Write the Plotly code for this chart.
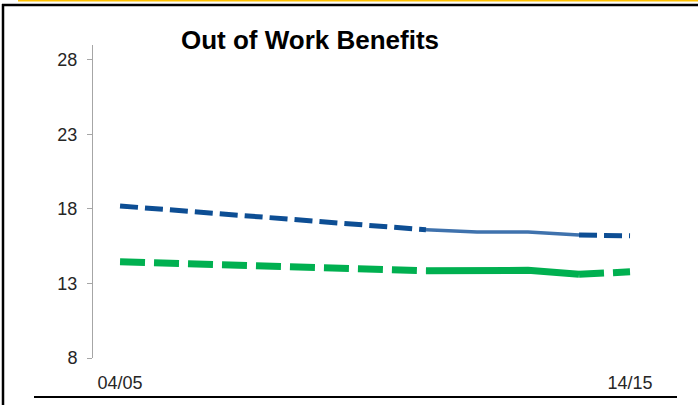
import plotly.graph_objects as go

years = ["04/05", "05/06", "06/07", "07/08", "08/09", "09/10",
         "10/11", "11/12", "12/13", "13/14", "14/15"]
blue_vals = [18.2, 17.92, 17.66, 17.4, 17.12, 16.86, 16.6, 16.45, 16.45, 16.25, 16.2]
green_vals = [14.45, 14.35, 14.26, 14.16, 14.1, 14.0, 13.85, 13.9, 13.88, 13.62, 13.78]
y_ticks = [8, 13, 18, 23, 28]
x_ticks = ["04/05", "14/15"]
title_text = "Out of Work Benefits"

BLUE_D = "#0D4E94"
BLUE_S = "#3F72AD"
GREEN = "#00B050"

def dashed(vals):
    xs = years[:7] + [None] + years[9:]
    ys = vals[:7] + [None] + vals[9:]
    return xs, ys

fig = go.Figure()
bx, by = dashed(blue_vals)
gx, gy = dashed(green_vals)
fig.add_trace(go.Scatter(x=bx, y=by, mode="lines", connectgaps=False,
                         line=dict(color=BLUE_D, width=5, dash="18px,7px")))
fig.add_trace(go.Scatter(x=years[6:10], y=blue_vals[6:10], mode="lines",
                         line=dict(color=BLUE_S, width=3.5)))
fig.add_trace(go.Scatter(x=gx, y=gy, mode="lines", connectgaps=False,
                         line=dict(color=GREEN, width=7, dash="25px,9px")))
fig.add_trace(go.Scatter(x=years[6:10], y=green_vals[6:10], mode="lines",
                         line=dict(color=GREEN, width=7)))

# plot area in pixels
X0, X1, YT, YB = 93, 680, 45, 358
def px(x):
    return (x - X0) / (X1 - X0)
def py(y):
    return (YB - y) / (YB - YT)

shapes = [
    dict(type="line", xref="paper", yref="paper", x0=px(18), x1=px(698), y0=py(0.5), y1=py(0.5),
         line=dict(color="#FFC000", width=2)),
    dict(type="line", xref="paper", yref="paper", x0=px(2), x1=px(698), y0=py(5), y1=py(5),
         line=dict(color="#000000", width=2.5)),
    dict(type="line", xref="paper", yref="paper", x0=px(3), x1=px(3), y0=py(4), y1=py(405),
         line=dict(color="#000000", width=2.5)),
    dict(type="line", xref="paper", yref="paper", x0=px(34), x1=px(677), y0=py(397), y1=py(397),
         line=dict(color="#000000", width=2)),
]

fig.update_layout(
    width=698, height=405,
    margin=dict(l=X0, r=698 - X1, t=YT, b=405 - YB),
    paper_bgcolor="white", plot_bgcolor="white",
    showlegend=False, hovermode=False,
    font=dict(family="Liberation Sans, Arial, sans-serif", color="#262626"),
    title=dict(text="<b>" + title_text + "</b>", x=310 / 698, xanchor="center",
               y=1 - 40 / 405, yanchor="middle", yref="container", xref="container",
               font=dict(size=26, color="#000000", family="Liberation Sans, Arial, sans-serif")),
    shapes=shapes,
    xaxis=dict(type="category", categoryorder="array", categoryarray=years,
               range=[-0.53, 10.98], tickvals=x_ticks, ticktext=x_ticks,
               showline=False, showgrid=False, zeroline=False, ticks="",
               ticklabelstandoff=12, tickfont=dict(size=18, color="#262626")),
    yaxis=dict(range=[8, 29], tickvals=y_ticks, showline=True, linecolor="#A6A6A6",
               linewidth=1, ticks="outside", ticklen=5, tickcolor="#A6A6A6",
               showgrid=False, zeroline=False, ticklabelstandoff=6,
               tickfont=dict(size=18, color="#262626")),
)

fig.write_html("out.html", config={"displayModeBar": False, "staticPlot": True},
               post_script="document.body.style.margin='0';document.body.style.padding='0';")
